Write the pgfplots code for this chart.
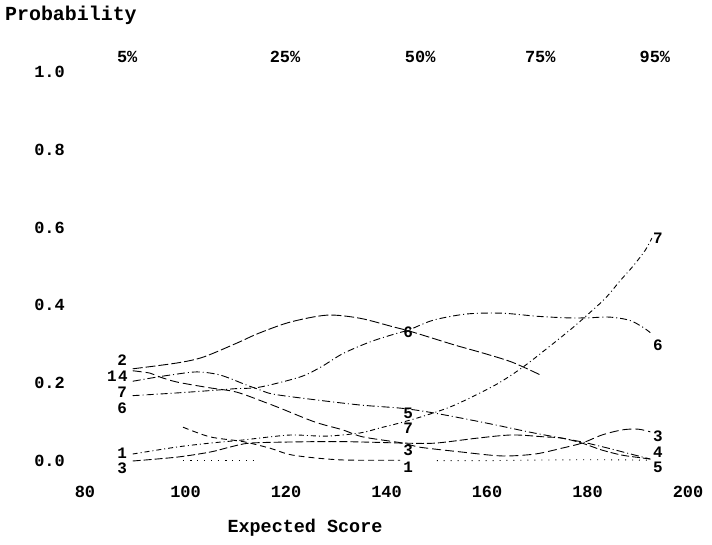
\documentclass[border=0pt]{standalone}
\usepackage{pgfplots}
\pgfplotsset{compat=1.18}
\usepackage{fontspec}
\setmainfont{Liberation Mono}
\begin{document}
\begin{tikzpicture}
\begin{axis}[
  width=603bp, height=389bp, scale only axis,
  xmin=80, xmax=200, ymin=0, ymax=1,
  clip=false,
  axis line style={draw=none},
  tick style={draw=none},
  xtick={80,100,120,140,160,180,200},
  ytick={0,0.2,0.4,0.6,0.8,1.0},
  /pgf/number format/assume math mode=true,
  yticklabel={\pgfmathprintnumber[fixed,fixed zerofill,precision=1]{\tick}},
  xticklabel style={anchor=center, inner sep=0pt, yshift=-31bp, font=\fontsize{17}{19}\selectfont\bfseries},
  yticklabel style={anchor=east, inner sep=0pt, xshift=-20bp, font=\fontsize{17}{19}\selectfont\bfseries},
  every axis plot/.append style={black, line width=0.9pt, smooth, tension=0.5},
]
% series 2
\addplot[dash pattern=on 10pt off 3pt] coordinates {(89.5,0.237)(98.3,0.252)(103.5,0.267)(110.2,0.303)(114.5,0.328)(120.8,0.357)(128.2,0.375)(134.7,0.367)(141.3,0.345)(144.3,0.335)(147.6,0.322)(153.6,0.298)(159.6,0.276)(165,0.254)(170.5,0.222)};
% series 6
\addplot[dash pattern=on 7pt off 3pt on 1pt off 3pt] coordinates {(89.5,0.168)(98.3,0.175)(104.9,0.181)(110,0.186)(114.8,0.19)(122.8,0.216)(127,0.242)(131.3,0.276)(136.7,0.306)(142,0.328)(144.3,0.336)(149.3,0.362)(156,0.378)(163,0.38)(170,0.372)(176,0.368)(180,0.368)(184.3,0.37)(188.3,0.362)(191,0.344)(192.5,0.33)};
% series 5
\addplot[dash pattern=on 8pt off 3pt on 1pt off 3pt] coordinates {(89.5,0.205)(93.5,0.214)(97.5,0.222)(102.3,0.229)(106.9,0.221)(112.2,0.195)(114.8,0.183)(117.4,0.172)(124.8,0.159)(134.7,0.144)(142.7,0.136)(148.3,0.126)(155,0.11)(161.6,0.093)(168.2,0.075)(173.5,0.062)(178.9,0.049)(184.1,0.033)(188,0.02)(192.5,0.005)};
% series 3
\addplot[dash pattern=on 9pt off 4pt] coordinates {(89.5,0.232)(92.9,0.226)(94.9,0.216)(98.3,0.203)(104.9,0.188)(110.2,0.177)(116.2,0.149)(119,0.135)(125.8,0.1)(131.3,0.08)(135.3,0.062)(143.3,0.046)(146.3,0.036)(155,0.023)(163,0.013)(169.6,0.018)(174.9,0.033)(178.9,0.046)(182.9,0.067)(186.9,0.08)(190,0.082)(192.5,0.075)};
% series 7
\addplot[dash pattern=on 5pt off 3pt on 1pt off 3pt] coordinates {(89.5,0.018)(98.3,0.036)(104.9,0.046)(111.4,0.054)(116.8,0.062)(121.4,0.067)(128,0.064)(134.7,0.072)(138.7,0.085)(142.7,0.098)(148,0.118)(153.6,0.144)(161.6,0.195)(167,0.24)(172,0.29)(177,0.342)(180.6,0.383)(183.6,0.419)(186.6,0.465)(189,0.5)(191.5,0.542)(192.8,0.573)};
% series 4
\addplot[dash pattern=on 8pt off 3pt] coordinates {(89.5,0.0)(98.3,0.01)(104.9,0.023)(108.9,0.036)(112.8,0.046)(121.4,0.049)(130,0.05)(138,0.048)(143.3,0.046)(149.7,0.046)(158.2,0.059)(165,0.067)(171.5,0.062)(174.9,0.059)(178.9,0.046)(182.9,0.028)(186.9,0.015)(190.8,0.008)(192.5,0.005)};
% series 1
\addplot[dash pattern=on 6pt off 4pt] coordinates {(99.5,0.087)(104.9,0.062)(111.4,0.05)(116.8,0.033)(121.4,0.015)(130.7,0.003)(142.7,0.002)};
\addplot[dash pattern=on 1pt off 6pt] coordinates {(150,0.001)(160,0.001)(175,0.003)(186,0.003)(192.5,0.002)};
\addplot[dash pattern=on 1pt off 6pt] coordinates {(99.5,0.002)(106,0.002)(113.4,0.002)};

\begin{scope}[every node/.style={font=\fontsize{16}{18}\selectfont\bfseries, inner sep=0pt}]
% left labels
\node at (axis cs:87.4,0.2596) {2};
\node at (axis cs:87.56,0.2185) {4};
\node at (axis cs:85.37,0.2185) {1};
\node at (axis cs:87.4,0.1774) {7};
\node at (axis cs:87.4,0.1362) {6};
\node at (axis cs:87.4,0.0206) {1};
\node at (axis cs:87.4,-0.018) {3};
% middle labels
\node at (axis cs:144.3,0.330) {6};
\node at (axis cs:144.3,0.123) {5};
\node at (axis cs:144.3,0.085) {7};
\node at (axis cs:144.3,0.028) {3};
\node at (axis cs:144.3,-0.016) {1};
% right labels
\node at (axis cs:194,0.573) {7};
\node at (axis cs:194,0.298) {6};
\node at (axis cs:194,0.0643) {3};
\node at (axis cs:194,0.0231) {4};
\node at (axis cs:194,-0.0154) {5};
% percentiles
\node[font=\fontsize{17}{19}\selectfont\bfseries] at (axis cs:88.4,1.0386) {5\%};
\node[font=\fontsize{17}{19}\selectfont\bfseries] at (axis cs:119.8,1.0386) {25\%};
\node[font=\fontsize{17}{19}\selectfont\bfseries] at (axis cs:146.7,1.0386) {50\%};
\node[font=\fontsize{17}{19}\selectfont\bfseries] at (axis cs:170.6,1.0386) {75\%};
\node[font=\fontsize{17}{19}\selectfont\bfseries] at (axis cs:193.4,1.0386) {95\%};
% titles
\node[anchor=west, font=\fontsize{20}{22}\selectfont\bfseries] at (rel axis cs:-0.1327,1.1465) {Probability};
\node[font=\fontsize{18.5}{21}\selectfont\bfseries] at (rel axis cs:0.3648,-0.1722) {Expected Score};
\end{scope}
\coordinate (bbl) at (rel axis cs:-0.14096,-0.21337);
\coordinate (btr) at (rel axis cs:1.03980,1.18509);
\end{axis}
\pgfresetboundingbox
\path (bbl) rectangle (btr);
\end{tikzpicture}
\end{document}
